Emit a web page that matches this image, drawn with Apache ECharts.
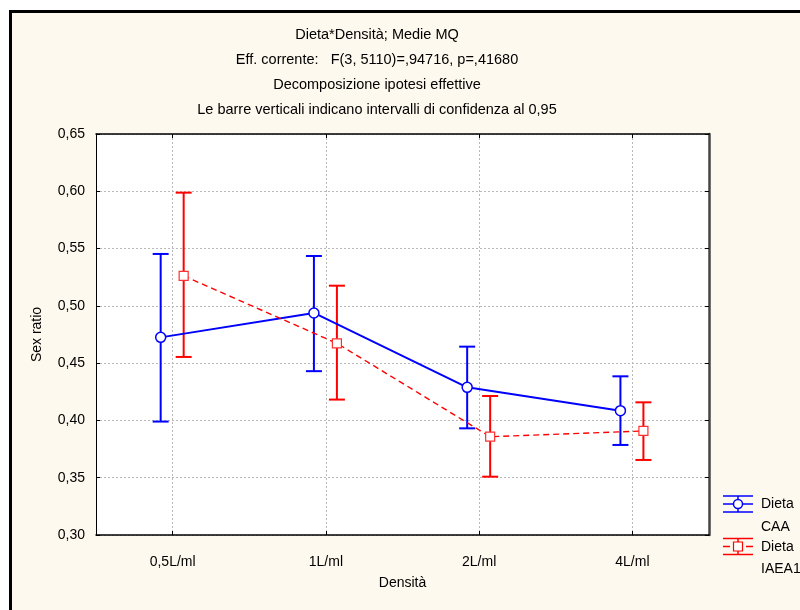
<!DOCTYPE html>
<html>
<head>
<meta charset="utf-8">
<script src="https://cdn.jsdelivr.net/npm/echarts@6/dist/echarts.min.js"></script>
<style>
  html, body { margin: 0; padding: 0; background: #ffffff; }
  #chart { width: 800px; height: 610px; }
</style>
</head>
<body>
<div id="chart"></div>
<script>
// Categories on the x axis
const densita = ['0,5L/ml', '1L/ml', '2L/ml', '4L/ml'];

// Least-squares means and 95% confidence limits, diet CAA
const caaMean = [0.4725, 0.4938, 0.4289, 0.4085];
const caaLow  = [0.3990, 0.4430, 0.3931, 0.3786];
const caaHigh = [0.5453, 0.5435, 0.4644, 0.4385];

// Least-squares means and 95% confidence limits, diet IAEA1
const iaeaMean = [0.5262, 0.4673, 0.3858, 0.3908];
const iaeaLow  = [0.4554, 0.4182, 0.3509, 0.3655];
const iaeaHigh = [0.5988, 0.5176, 0.4213, 0.4158];

// Y axis range and step
const yMin = 0.30;
const yMax = 0.65;
const yStep = 0.05;

const seriesNames = ['Dieta\nCAA', 'Dieta\nIAEA1'];
const titleLines = [
  'Dieta*Densità; Medie MQ',
  'Eff. corrente:   F(3, 5110)=,94716, p=,41680',
  'Decomposizione ipotesi effettive',
  'Le barre verticali indicano intervalli di confidenza al 0,95'
];
const xName = 'Densità';
const yName = 'Sex ratio';

const FONT = '"Liberation Sans", Arial, sans-serif';
const FS = 14;
const BLUE = '#0000ff';
const RED = '#ff0000';

// horizontal shift of each diet inside its category band (in band units)
const SHIFT_CAA = -0.078;
const SHIFT_IAEA = 0.072;

const chart = echarts.init(document.getElementById('chart'), null, { renderer: 'canvas' });

function errorBars(name, low, high, shift, color) {
  return {
    name: name,
    type: 'custom',
    xAxisIndex: 2,
    yAxisIndex: 0,
    z: 3,
    silent: true,
    data: low.map((l, i) => [i + 0.5 + shift, l, high[i]]),
    encode: { x: 0, y: [1, 2] },
    renderItem(params, api) {
      const lo = api.coord([api.value(0), api.value(1)]);
      const hi = api.coord([api.value(0), api.value(2)]);
      const w = 8;
      const style = { stroke: color, lineWidth: 2, fill: null };
      return {
        type: 'group',
        children: [
          { type: 'line', shape: { x1: hi[0], y1: hi[1], x2: lo[0], y2: lo[1] }, style: style },
          { type: 'line', shape: { x1: hi[0] - w, y1: hi[1], x2: hi[0] + w, y2: hi[1] }, style: style },
          { type: 'line', shape: { x1: lo[0] - w, y1: lo[1], x2: lo[0] + w, y2: lo[1] }, style: style }
        ]
      };
    }
  };
}

const gridLine = { show: true, lineStyle: { color: '#b8b8b8', width: 1, type: [2, 2] } };

// legend glyphs: error-bar symbol with marker, plus two-line label
function legendItem(y, color, dashed, marker, label) {
  const x0 = 723, x1 = 753, xc = 738;
  const st = { stroke: color, lineWidth: 1.5 };
  const mid = dashed
    ? [
        { type: 'line', shape: { x1: x0, y1: y, x2: x0 + 7, y2: y }, style: st },
        { type: 'line', shape: { x1: x1 - 7, y1: y, x2: x1, y2: y }, style: st }
      ]
    : [{ type: 'line', shape: { x1: x0, y1: y, x2: x1, y2: y }, style: st }];
  const mk = marker === 'circle'
    ? { type: 'circle', shape: { cx: xc, cy: y, r: 4.5 }, style: { fill: '#fff', stroke: color, lineWidth: 1.5 } }
    : { type: 'rect', shape: { x: xc - 4.5, y: y - 4.5, width: 9, height: 9 }, style: { fill: '#fff', stroke: color, lineWidth: 1.2 } };
  return [
    { type: 'line', shape: { x1: x0, y1: y - 8, x2: x1, y2: y - 8 }, style: st },
    { type: 'line', shape: { x1: x0, y1: y + 8, x2: x1, y2: y + 8 }, style: st },
    { type: 'line', shape: { x1: xc, y1: y - 8, x2: xc, y2: y + 8 }, style: st },
    ...mid,
    mk,
    {
      type: 'text', x: 761, y: y - 11,
      style: { text: label, font: FS + 'px ' + FONT, fill: '#000', lineHeight: 22.5, textVerticalAlign: 'top' }
    }
  ];
}

const option = {
  backgroundColor: '#ffffff',
  animation: false,
  textStyle: { fontFamily: FONT },
  graphic: [
    {
      type: 'rect', z: -10, silent: true,
      shape: { x: 10.5, y: 11.5, width: 1000, height: 1000 },
      style: { fill: '#fef9ee', stroke: '#000', lineWidth: 3 }
    },
    ...legendItem(504, BLUE, false, 'circle', seriesNames[0]),
    ...legendItem(546.5, RED, true, 'rect', seriesNames[1])
  ],
  title: {
    text: titleLines.join('\n'),
    left: 372,
    top: 17,
    textAlign: 'center',
    textStyle: { fontFamily: FONT, fontSize: 14.5, fontWeight: 'normal', color: '#000', lineHeight: 25 }
  },
  grid: {
    left: 96, top: 134, width: 613, height: 401,
    show: true, backgroundColor: '#ffffff', borderWidth: 0
  },
  xAxis: [
    {
      type: 'category',
      data: densita,
      position: 'bottom',
      boundaryGap: true,
      name: xName,
      nameLocation: 'middle',
      nameGap: 41,
      nameTextStyle: { fontFamily: FONT, fontSize: FS, color: '#000' },
      axisLine: { show: true, lineStyle: { color: '#000', width: 1.5 } },
      axisTick: { show: true, inside: true, alignWithLabel: true, length: 4, lineStyle: { color: '#000' } },
      axisLabel: { fontFamily: FONT, fontSize: FS, color: '#000', margin: 20 },
      splitLine: Object.assign({ alignWithLabel: true }, gridLine)
    },
    {
      type: 'category',
      data: densita,
      position: 'top',
      boundaryGap: true,
      axisLine: { show: true, lineStyle: { color: '#000', width: 1.5 } },
      axisTick: { show: true, inside: true, alignWithLabel: true, length: 4, lineStyle: { color: '#000' } },
      axisLabel: { show: false },
      splitLine: { show: false }
    },
    {
      type: 'value',
      show: false,
      min: 0,
      max: densita.length,
      splitLine: { show: false }
    }
  ],
  yAxis: [
    {
      type: 'value',
      min: yMin, max: yMax, interval: yStep,
      position: 'left',
      name: yName,
      nameLocation: 'middle',
      nameGap: 52,
      nameRotate: 90,
      nameTextStyle: { fontFamily: FONT, fontSize: FS, color: '#000' },
      axisLine: { show: true, lineStyle: { color: '#000', width: 1 } },
      axisTick: { show: true, inside: true, length: 4, lineStyle: { color: '#000' } },
      axisLabel: {
        fontFamily: FONT, fontSize: FS, color: '#000', margin: 11,
        formatter: v => v.toFixed(2).replace('.', ',')
      },
      splitLine: gridLine
    },
    {
      type: 'value',
      min: yMin, max: yMax, interval: yStep,
      position: 'right',
      axisLine: { show: true, lineStyle: { color: '#444', width: 2.5 } },
      axisTick: { show: true, inside: true, length: 4, lineStyle: { color: '#000' } },
      axisLabel: { show: false },
      splitLine: { show: false }
    }
  ],
  series: [
    errorBars('ciCAA', caaLow, caaHigh, SHIFT_CAA, BLUE),
    errorBars('ciIAEA', iaeaLow, iaeaHigh, SHIFT_IAEA, RED),
    {
      name: seriesNames[0],
      type: 'line',
      xAxisIndex: 2, yAxisIndex: 0,
      z: 5,
      data: caaMean.map((v, i) => [i + 0.5 + SHIFT_CAA, v]),
      lineStyle: { color: BLUE, width: 2 },
      symbol: 'circle',
      symbolSize: 10,
      itemStyle: { color: '#ffffff', borderColor: BLUE, borderWidth: 1.5 },
      showAllSymbol: true
    },
    {
      name: seriesNames[1],
      type: 'line',
      xAxisIndex: 2, yAxisIndex: 0,
      z: 5,
      data: iaeaMean.map((v, i) => [i + 0.5 + SHIFT_IAEA, v]),
      lineStyle: { color: RED, width: 1.4, type: [6, 4] },
      symbol: 'rect',
      symbolSize: 9,
      itemStyle: { color: '#ffffff', borderColor: '#ff3030', borderWidth: 1.2 },
      showAllSymbol: true
    }
  ]
};

chart.setOption(option);
</script>
</body>
</html>
